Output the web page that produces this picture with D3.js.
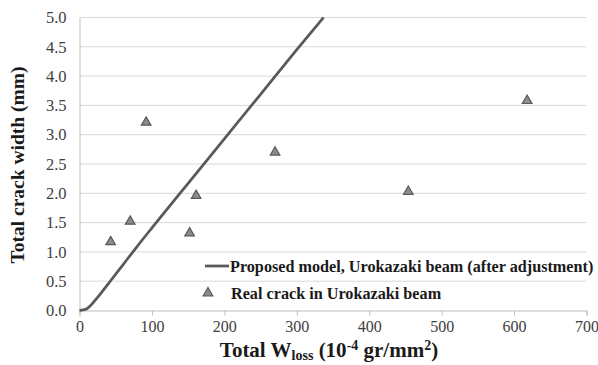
<!DOCTYPE html>
<html>
<head>
<meta charset="utf-8">
<script src="https://cdn.jsdelivr.net/npm/d3@7"></script>
<style>
  body { margin: 0; background: #fff; }
  svg text { font-family: "Liberation Serif", "Times New Roman", serif; }
</style>
</head>
<body>
<svg width="598" height="365"></svg>
<script>
// proposed model curve
var modelX = [0, 5, 10, 15, 20, 30, 40, 50, 60, 80, 100, 150, 200, 250, 300, 337];
var modelY = [0, 0.01, 0.03, 0.08, 0.15, 0.3, 0.46, 0.62, 0.78, 1.1, 1.41, 2.17, 2.93, 3.69, 4.45, 5.0];

// real crack measurements
var crackX = [43, 70, 92, 152, 161, 270, 454, 618];
var crackY = [1.17, 1.52, 3.21, 1.32, 1.96, 2.70, 2.03, 3.58];

var xTicks = [0, 100, 200, 300, 400, 500, 600, 700];
var yTicks = [0, 0.5, 1, 1.5, 2, 2.5, 3, 3.5, 4, 4.5, 5];

var svg = d3.select("svg");
var pLeft = 79.5, pRight = 586.5, pTop = 17.5, pBottom = 310.5;

var x = d3.scaleLinear().domain([0, 700]).range([pLeft, pRight]);
var y = d3.scaleLinear().domain([0, 5]).range([pBottom, pTop]);

// gridlines
svg.append("g")
  .selectAll("line")
  .data(yTicks.slice(1))
  .enter().append("line")
    .attr("x1", pLeft).attr("x2", pRight)
    .attr("y1", function(d) { return y(d); })
    .attr("y2", function(d) { return y(d); })
    .attr("stroke", "#d9d9d9")
    .attr("stroke-width", 1);

// x axis
var xAxis = svg.append("g")
  .attr("transform", "translate(0," + pBottom + ")")
  .call(d3.axisBottom(x).tickValues(xTicks).tickSize(5).tickPadding(5).tickFormat(d3.format("d")));
xAxis.attr("font-family", "Liberation Serif").attr("font-size", 16);
xAxis.select(".domain").attr("stroke", "#bfbfbf");
xAxis.selectAll(".tick line").attr("stroke", "#bfbfbf");
xAxis.selectAll("text").attr("fill", "#404040");

// y axis
var yAxis = svg.append("g")
  .attr("transform", "translate(" + pLeft + ",0)")
  .call(d3.axisLeft(y).tickValues(yTicks).tickSize(0).tickPadding(13).tickFormat(d3.format(".1f")));
yAxis.attr("font-family", "Liberation Serif").attr("font-size", 16.5);
yAxis.select(".domain").attr("stroke", "#bfbfbf");
yAxis.selectAll("text").attr("fill", "#404040");

// model line
var line = d3.line()
  .x(function(d) { return x(d[0]); })
  .y(function(d) { return y(d[1]); })
  .curve(d3.curveMonotoneX);

svg.append("path")
  .datum(modelX.map(function(v, i) { return [v, modelY[i]]; }))
  .attr("d", line)
  .attr("fill", "none")
  .attr("stroke", "#595959")
  .attr("stroke-width", 2.75);

// triangles
var tri = d3.symbol().type(d3.symbolTriangle).size(40);
svg.append("g")
  .selectAll("path")
  .data(crackX.map(function(v, i) { return [v, crackY[i]]; }))
  .enter().append("path")
    .attr("d", tri)
    .attr("transform", function(d) { return "translate(" + x(d[0]) + "," + y(d[1]) + ")"; })
    .attr("fill", "#8c8c8c")
    .attr("stroke", "#595959")
    .attr("stroke-width", 1.2);

// legend
var leg = svg.append("g");
leg.append("line")
  .attr("x1", 205).attr("x2", 229).attr("y1", 266).attr("y2", 266)
  .attr("stroke", "#595959").attr("stroke-width", 2.75);
leg.append("text")
  .attr("x", 230).attr("y", 271.5)
  .attr("font-size", "16.2px").attr("font-weight", "bold").attr("fill", "#1a1a1a")
  .text("Proposed model, Urokazaki beam (after adjustment)");
leg.append("path")
  .attr("d", tri)
  .attr("transform", "translate(208,293)")
  .attr("fill", "#8c8c8c").attr("stroke", "#595959").attr("stroke-width", 1.2);
leg.append("text")
  .attr("x", 231).attr("y", 298.5)
  .attr("font-size", "16.2px").attr("font-weight", "bold").attr("fill", "#1a1a1a")
  .text("Real crack in Urokazaki beam");

// axis titles
svg.append("text")
  .attr("transform", "translate(24,165) rotate(-90)")
  .attr("text-anchor", "middle")
  .attr("font-size", "19.5px").attr("font-weight", "bold").attr("fill", "#1a1a1a")
  .text("Total crack width (mm)");

var xt = svg.append("text")
  .attr("x", 329).attr("y", 357)
  .attr("text-anchor", "middle")
  .attr("font-size", "21px").attr("font-weight", "bold").attr("fill", "#1a1a1a");
xt.append("tspan").text("Total W");
xt.append("tspan").attr("font-size", "14px").attr("dy", 3).text("loss");
xt.append("tspan").attr("dy", -3).text(" (10");
xt.append("tspan").attr("font-size", "14px").attr("dy", -7).text("-4");
xt.append("tspan").attr("dy", 7).text(" gr/mm");
xt.append("tspan").attr("font-size", "14px").attr("dy", -7).text("2");
xt.append("tspan").attr("dy", 7).text(")");
</script>
</body>
</html>
